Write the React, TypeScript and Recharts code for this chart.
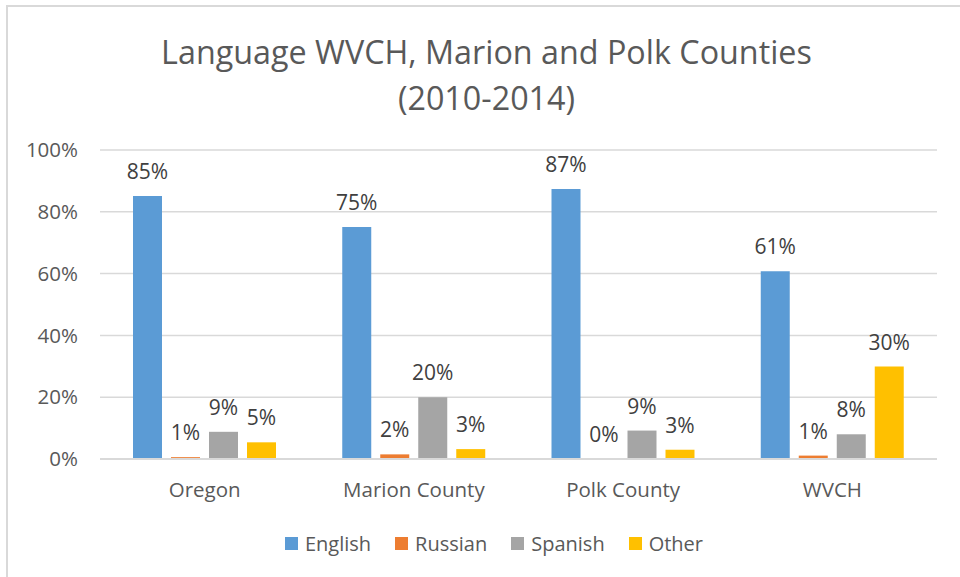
import { BarChart, Bar, XAxis, YAxis, CartesianGrid, LabelList } from "recharts";

const regions = ["Oregon", "Marion County", "Polk County", "WVCH"];
const english = [85.1, 75.1, 87.4, 60.8];
const russian = [0.6, 1.5, 0, 1.1];
const spanish = [8.8, 20.0, 9.2, 8.0];
const other = [5.4, 3.2, 3.0, 29.9];
const yTicks = [0, 20, 40, 60, 80, 100];

const series = [
  { key: "English", values: english, color: "#5B9BD5" },
  { key: "Russian", values: russian, color: "#ED7D31" },
  { key: "Spanish", values: spanish, color: "#A5A5A5" },
  { key: "Other", values: other, color: "#FFC000" },
];

const data = regions.map((region, i) => {
  const row: Record<string, any> = { region };
  series.forEach((s) => (row[s.key] = s.values[i]));
  return row;
});

const font = "'Open Sans', 'Noto Sans', sans-serif";

// value label drawn above each bar (also for zero-height bars)
const renderValueLabel = (props: any) => {
  const { x, y, width, value } = props;
  if (value == null) return null;
  return (
    <text
      x={Number(x) + Number(width) / 2}
      y={Number(y) - 17}
      textAnchor="middle"
      fill="#404040"
      fontSize={21}
      fontFamily={font}
    >
      {`${Math.round(Number(value))}%`}
    </text>
  );
};

export default function App() {
  return (
    <div
      style={{
        position: "absolute",
        left: 0,
        top: 0,
        width: 960,
        height: 577,
        overflow: "hidden",
        background: "#fff",
        fontFamily: font,
      }}
    >
      {/* chart frame, only top and left edges visible */}
      <div
        style={{
          position: "absolute",
          left: 6,
          top: 5,
          width: 980,
          height: 600,
          borderLeft: "2px solid #D9D9D9",
          borderTop: "2px solid #D9D9D9",
        }}
      />

      {/* Title */}
      <div
        style={{
          position: "absolute",
          left: 0,
          top: 28,
          width: 973,
          textAlign: "center",
          fontSize: 32.3,
          lineHeight: "46px",
          color: "#595959",
        }}
      >
        Language WVCH, Marion and Polk Counties
        <br />
        (2010-2014)
      </div>

      <div style={{ position: "absolute", left: 0, top: 0 }}>
        <BarChart
          width={960}
          height={577}
          data={data}
          margin={{ top: 150, right: 23, bottom: 88, left: 0 }}
          barSize={29}
          barGap={9}
        >
          <CartesianGrid vertical={false} stroke="#D9D9D9" strokeWidth={1.5} />
          <XAxis
            dataKey="region"
            height={30}
            axisLine={{ stroke: "#D9D9D9", strokeWidth: 2 }}
            tickLine={false}
            tick={{ fill: "#595959", fontSize: 20.5, fontFamily: font }}
            dy={15}
          />
          <YAxis
            width={100}
            domain={[0, 100]}
            ticks={yTicks}
            axisLine={false}
            tickLine={false}
            tickFormatter={(v) => `${v}%`}
            tick={{ fill: "#595959", fontSize: 20.5, fontFamily: font }}
            dx={-14}
          />
          {series.map((s) => (
            <Bar
              key={s.key}
              dataKey={s.key}
              fill={s.color}
              minPointSize={0.01}
              isAnimationActive={false}
            >
              <LabelList dataKey={s.key} content={renderValueLabel} />
            </Bar>
          ))}
        </BarChart>
      </div>

      {/* Legend */}
      <div
        style={{
          position: "absolute",
          left: 0,
          top: 530,
          width: 960,
          display: "flex",
          justifyContent: "center",
          paddingLeft: 14,
          gap: 24,
          fontSize: 20,
          color: "#595959",
        }}
      >
        {series.map((s) => (
          <div key={s.key} style={{ display: "flex", alignItems: "center" }}>
            <span
              style={{
                display: "inline-block",
                width: 13,
                height: 13,
                background: s.color,
                marginRight: 7,
              }}
            />
            <span>{s.key}</span>
          </div>
        ))}
      </div>
    </div>
  );
}
